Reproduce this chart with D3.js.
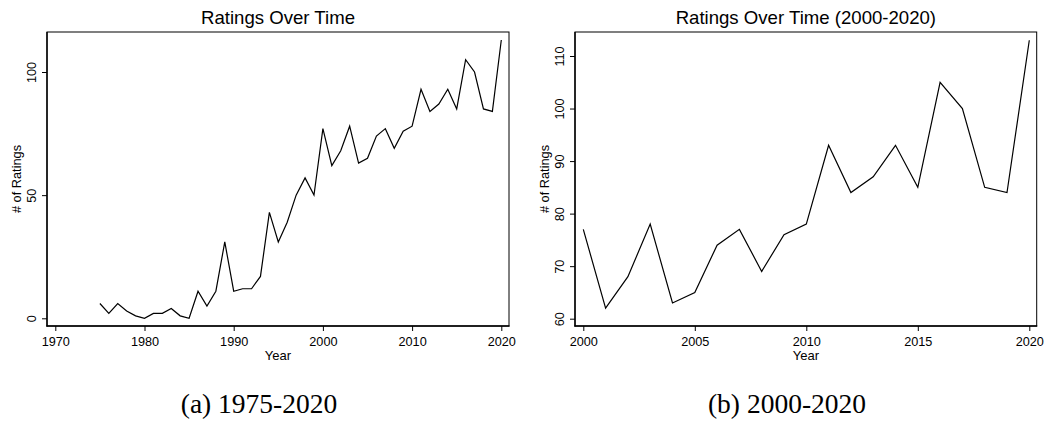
<!DOCTYPE html>
<html><head><meta charset="utf-8">
<script src="https://cdn.jsdelivr.net/npm/d3@7"></script>
<style>body{margin:0;background:#fff}svg{display:block}</style>
</head><body>
<svg id="c" width="1045" height="422"></svg>
<script>
const yearsAll = d3.range(1975, 2021);
const ratingsAll = [6,2,6,3,1,0,2,2,4,1,0,11,5,11,31,11,12,12,17,43,31,39,50,57,50,77,62,68,78,63,65,74,77,69,76,78,93,84,87,93,85,105,100,85,84,113];
const yearsRecent = d3.range(2000, 2021);
const ratingsRecent = [77,62,68,78,63,65,74,77,69,76,78,93,84,87,93,85,105,100,85,84,113];
const xTicksA = [1970,1980,1990,2000,2010,2020];
const yTicksA = [0,50,100];
const xTicksB = [2000,2005,2010,2015,2020];
const yTicksB = [60,70,80,90,100,110];
const titles = ["Ratings Over Time", "Ratings Over Time (2000-2020)"];
const captions = ["(a) 1975-2020", "(b) 2000-2020"];

const svg = d3.select("#c");
const font = "'Liberation Sans', Arial, sans-serif";

function panel(cfg){
  const g = svg.append("g");
  const {left,right,top,bottom} = cfg.frame;
  const x = d3.scaleLinear().domain(cfg.xd).range(cfg.xr);
  const y = d3.scaleLinear().domain(cfg.yd).range(cfg.yr);
  // frame
  g.append("rect").attr("x",left).attr("y",top).attr("width",right-left).attr("height",bottom-top)
    .attr("fill","none").attr("stroke","#000").attr("stroke-width",1);
  g.append("line").attr("x1",left).attr("x2",left).attr("y1",top).attr("y2",bottom+0.6).attr("stroke","#000").attr("stroke-width",1.4);
  g.append("line").attr("x1",left-0.6).attr("x2",right+0.5).attr("y1",bottom).attr("y2",bottom).attr("stroke","#000").attr("stroke-width",1.6);
  // x axis
  const xa = g.append("g").attr("transform",`translate(0,${bottom})`)
    .call(d3.axisBottom(x).tickValues(cfg.xt).tickFormat(d3.format("d")).tickSize(5).tickPadding(0));
  xa.select(".domain").remove();
  xa.selectAll("line").attr("stroke","#000").attr("stroke-width",1);
  xa.selectAll("text").attr("y",20).attr("dy",0).attr("fill","#000")
    .style("font-family",font).style("font-size","12.7px");
  // y axis
  const ya = g.append("g").attr("transform",`translate(${left},0)`)
    .call(d3.axisLeft(y).tickValues(cfg.yt).tickFormat(d3.format("d")).tickSize(5));
  ya.select(".domain").remove();
  ya.selectAll("line").attr("stroke","#000").attr("stroke-width",1);
  ya.selectAll("text").attr("transform","rotate(-90)").attr("x",0).attr("y",-11.5).attr("dy",0)
    .attr("text-anchor","middle").attr("fill","#000")
    .style("font-family",font).style("font-size","12.7px");
  // line
  const line = d3.line().x((d,i)=>x(cfg.years[i])).y(d=>y(d));
  g.append("path").datum(cfg.vals).attr("d",line).attr("fill","none")
    .attr("stroke","#000").attr("stroke-width",1.2).attr("stroke-linejoin","miter");
  // title
  g.append("text").attr("x",(left+right)/2).attr("y",24).attr("text-anchor","middle")
    .style("font-family",font).style("font-size","18.6px").text(cfg.title);
  // axis titles
  g.append("text").attr("x",(left+right)/2).attr("y",359.5).attr("text-anchor","middle")
    .style("font-family",font).style("font-size","13px").text("Year");
  g.append("text").attr("transform",`translate(${left-26},${(top+bottom)/2}) rotate(-90)`)
    .attr("text-anchor","middle").style("font-family",font).style("font-size","12.75px").text("# of Ratings");
  // caption
  g.append("text").attr("x",cfg.capX).attr("y",412.7).attr("text-anchor","middle")
    .style("font-family","'Liberation Serif', 'Times New Roman', serif").style("font-size","27.5px").text(cfg.caption);
}

panel({frame:{left:47,right:509,top:32,bottom:326}, xd:[1970,2020], xr:[55.3,501.3], yd:[0,100], yr:[318.3,72],
  xt:xTicksA, yt:yTicksA, years:yearsAll, vals:ratingsAll, title:titles[0], caption:captions[0], capX:259});
panel({frame:{left:575,right:1036.7,top:32,bottom:326}, xd:[2000,2020], xr:[583.3,1029.3], yd:[60,110], yr:[318.7,56],
  xt:xTicksB, yt:yTicksB, years:yearsRecent, vals:ratingsRecent, title:titles[1], caption:captions[1], capX:787});
</script>
</body></html>
